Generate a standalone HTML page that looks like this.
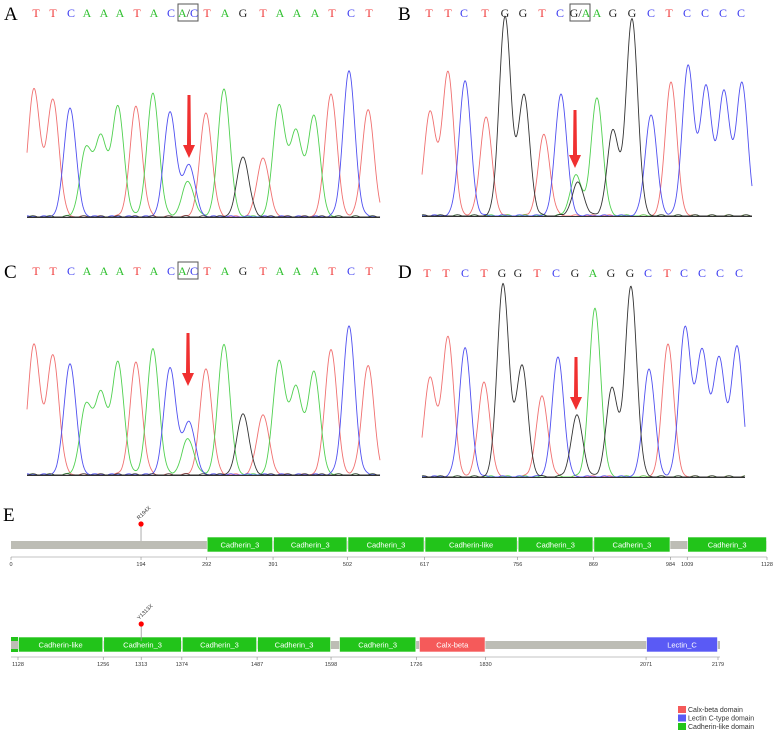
<!DOCTYPE html>
<html><head><meta charset="utf-8"><style>
body{margin:0;background:#fff;width:778px;height:734px;overflow:hidden}
svg{display:block}
.lab{font-family:"Liberation Serif",serif;font-size:19px}
.seq{font-family:"Liberation Serif",serif;font-size:12px}
.sm{font-family:"Liberation Sans",sans-serif;font-size:5.5px;fill:#333}
.bx{font-family:"Liberation Sans",sans-serif;font-size:7.5px;fill:#fff}
</style></head><body>
<svg id="s" width="778" height="734" xmlns="http://www.w3.org/2000/svg"></svg>
<script>
const S=document.getElementById('s');let h='';
const col={T:'#f03c3c',A:'#2ec02e',C:'#3c3cf0',G:'#222'};
const lcol={T:'#f07070',A:'#50d050',C:'#5050f0',G:'#333'};
function chrom(x0,x1,base,peaks,sig){
  for(const L of 'TACG'){
    let d='';
    for(let x=x0;x<=x1;x+=0.5){
      let v=0;
      for(const p of peaks){ if(p[2]!==L)continue; const dx=x-p[0]; v+= (base-p[1])*Math.exp(-dx*dx/(2*sig*sig)); }
      v+=1.2*Math.max(0,Math.sin(x*0.37+L.charCodeAt(0)));
      d+=(d?'L':'M')+x.toFixed(1)+' '+(base-v).toFixed(1);
    }
    h+=`<path d="${d}" fill="none" stroke="${lcol[L]}" stroke-width="0.9"/>`;
  }
  h+=`<line x1="${x0}" y1="${base+0.5}" x2="${x1}" y2="${base+0.5}" stroke="#333" stroke-width="1"/>`;
}
function seq(xs,y,letters){
  letters.forEach((l,i)=>{
    if(l.length>1){
      const [a,b]=l.split('/');
      h+=`<text class="seq" x="${xs[i]}" y="${y}" text-anchor="middle"><tspan fill="${col[a]}">${a}</tspan><tspan fill="#222">/</tspan><tspan fill="${col[b]}">${b}</tspan></text>`;
      h+=`<rect x="${xs[i]-10}" y="${y-13}" width="20" height="17" fill="none" stroke="#555" stroke-width="1"/>`;
    } else h+=`<text class="seq" x="${xs[i]}" y="${y}" text-anchor="middle" fill="${col[l]}">${l}</text>`;
  });
}
function arrow(x,y1,y2){
  h+=`<polygon points="${x-1.5},${y1} ${x+1.5},${y1} ${x+2},${y2-13} ${x+6},${y2-13} ${x},${y2} ${x-6},${y2-13} ${x-2},${y2-13}" fill="#f03030"/>`;
}
const Ax=[34,53,70,86,101,118,136,153,170,189,206,224,243,263,279,296,314,331,349,368];
const Ay=[90,100,108,150,140,108,107,94,112,165,113,89,157,158,106,132,116,94,72,110];
const Aseq='TTCAAATACATAGTAAATCT';
function Apeaks(dy,scale){let p=Ax.map((x,i)=>[x,217+dy-(217-Ay[i])*scale,Aseq[i]]);p.push([188,217+dy-(217-182)*scale,'A']);p[9][2]='C';return p;}
chrom(27,380,217,Apeaks(0,1),6.0);
const Alx=[36,53,71,87,104,120,137,154,171,188,207,225,243,263,280,297,315,332,351,369];
const Alet='T T C A A A T A C A/C T A G T A A A T C T'.split(' ');
seq(Alx,17,Alet);
arrow(189,95,158);
chrom(27,380,475,Apeaks(258,1.02),6.0);
seq(Alx,275,Alet);
arrow(188,333,386);
const Bp=[[430,112,'T'],[448,72,'T'],[465,81,'C'],[486,117,'T'],[505,17,'G'],[524,96,'G'],[544,135,'T'],[561,94,'C'],[576,176,'A'],[578,183,'G'],[597,98,'A'],[613,131,'G'],[632,19,'G'],[651,115,'C'],[671,82,'T'],[688,67,'C'],[706,88,'C'],[724,93,'C'],[742,84,'C']];
chrom(422,752,216,Bp,5.8);
const Blx=[429,448,464,485,505,523,542,560,580,597,613,632,651,669,687,705,723,741];
seq(Blx,17,'T T C T G G T C G/A A G G C T C C C C'.split(' '));
arrow(575,110,168);
const Dp=[[430,378,'T'],[448,337,'T'],[465,348,'C'],[484,382,'T'],[503,284,'G'],[522,366,'G'],[542,397,'T'],[558,357,'C'],[577,416,'G'],[595,309,'A'],[612,389,'G'],[631,287,'G'],[649,369,'C'],[668,344,'T'],[685,328,'C'],[702,352,'C'],[719,359,'C'],[737,347,'C']];
chrom(422,745,477,Dp,5.8);
const Dlx=[427,446,465,484,502,518,537,556,575,593,611,630,648,667,684,702,720,739];
seq(Dlx,277,'T T C T G G T C G A G G C T C C C C'.split(' '));
arrow(576,357,410);
h+=`<text class="lab" x="4" y="20">A</text><text class="lab" x="398" y="20">B</text><text class="lab" x="4" y="278">C</text><text class="lab" x="398" y="278">D</text><text class="lab" x="3" y="521">E</text>`;
function row(sx,barY,boxes,ticks,startX,endX,mut,mutLab){
  h+=`<rect x="${startX}" y="${barY+4}" width="${endX-startX}" height="8" fill="#bdbdb5"/>`;
  for(const b of boxes){
    const x1=sx(b[0]),x2=sx(b[1]);
    h+=`<rect x="${x1+0.5}" y="${barY}" width="${x2-x1-1}" height="15" fill="${b[3]}" stroke="#fff" stroke-width="0.6"/>`;
    if(b[2])h+=`<text class="bx" x="${(x1+x2)/2}" y="${barY+10.3}" text-anchor="middle">${b[2]}</text>`;
  }
  const ty=barY+20;
  h+=`<line x1="${startX}" y1="${ty}" x2="${endX}" y2="${ty}" stroke="#888" stroke-width="0.6"/>`;
  for(const t of ticks){const x=sx(t);h+=`<line x1="${x}" y1="${ty}" x2="${x}" y2="${ty+3}" stroke="#888" stroke-width="0.6"/><text class="sm" x="${x}" y="${ty+9}" text-anchor="middle">${t}</text>`;}
  const mx=sx(mut);
  h+=`<line x1="${mx}" y1="${barY-13}" x2="${mx}" y2="${barY+4}" stroke="#999" stroke-width="0.8"/><circle cx="${mx}" cy="${barY-13}" r="2.6" fill="#f00"/>`;
  h+=`<text class="sm" x="${mx-2}" y="${barY-17}" transform="rotate(-45 ${mx-2} ${barY-17})">${mutLab}</text>`;
}
const G='#22c41a';
const s1=p=>11+p*756/1128;
row(s1,537,[[292,391,'Cadherin_3',G],[391,502,'Cadherin_3',G],[502,617,'Cadherin_3',G],[617,756,'Cadherin-like',G],[756,869,'Cadherin_3',G],[869,984,'Cadherin_3',G],[1009,1128,'Cadherin_3',G]],[0,194,292,391,502,617,756,869,984,1009,1128],11,767,194,'R194X');
const s2=p=>18+(p-1128)*700/1051;
h+=`<rect x="11" y="637" width="7" height="15" fill="${G}"/>`;
row(s2,637,[[1128,1256,'Cadherin-like',G],[1256,1374,'Cadherin_3',G],[1374,1487,'Cadherin_3',G],[1487,1598,'Cadherin_3',G],[1610,1726,'Cadherin_3',G],[1730,1830,'Calx-beta','#f55a5a'],[2071,2179,'Lectin_C','#5a5af5']],[1128,1256,1313,1374,1487,1598,1726,1830,2071,2179],11,720,1313,'Y1313X');
[['#f55a5a','Calx-beta domain'],['#5a5af5','Lectin C-type domain'],['#22c41a','Cadherin-like domain']].forEach((l,i)=>{
  h+=`<rect x="678" y="${706+i*8.5}" width="8" height="7" fill="${l[0]}"/><text class="sm" style="font-size:7px" x="688" y="${712+i*8.5}">${l[1]}</text>`;
});
S.innerHTML=h;
</script>
</body></html>
